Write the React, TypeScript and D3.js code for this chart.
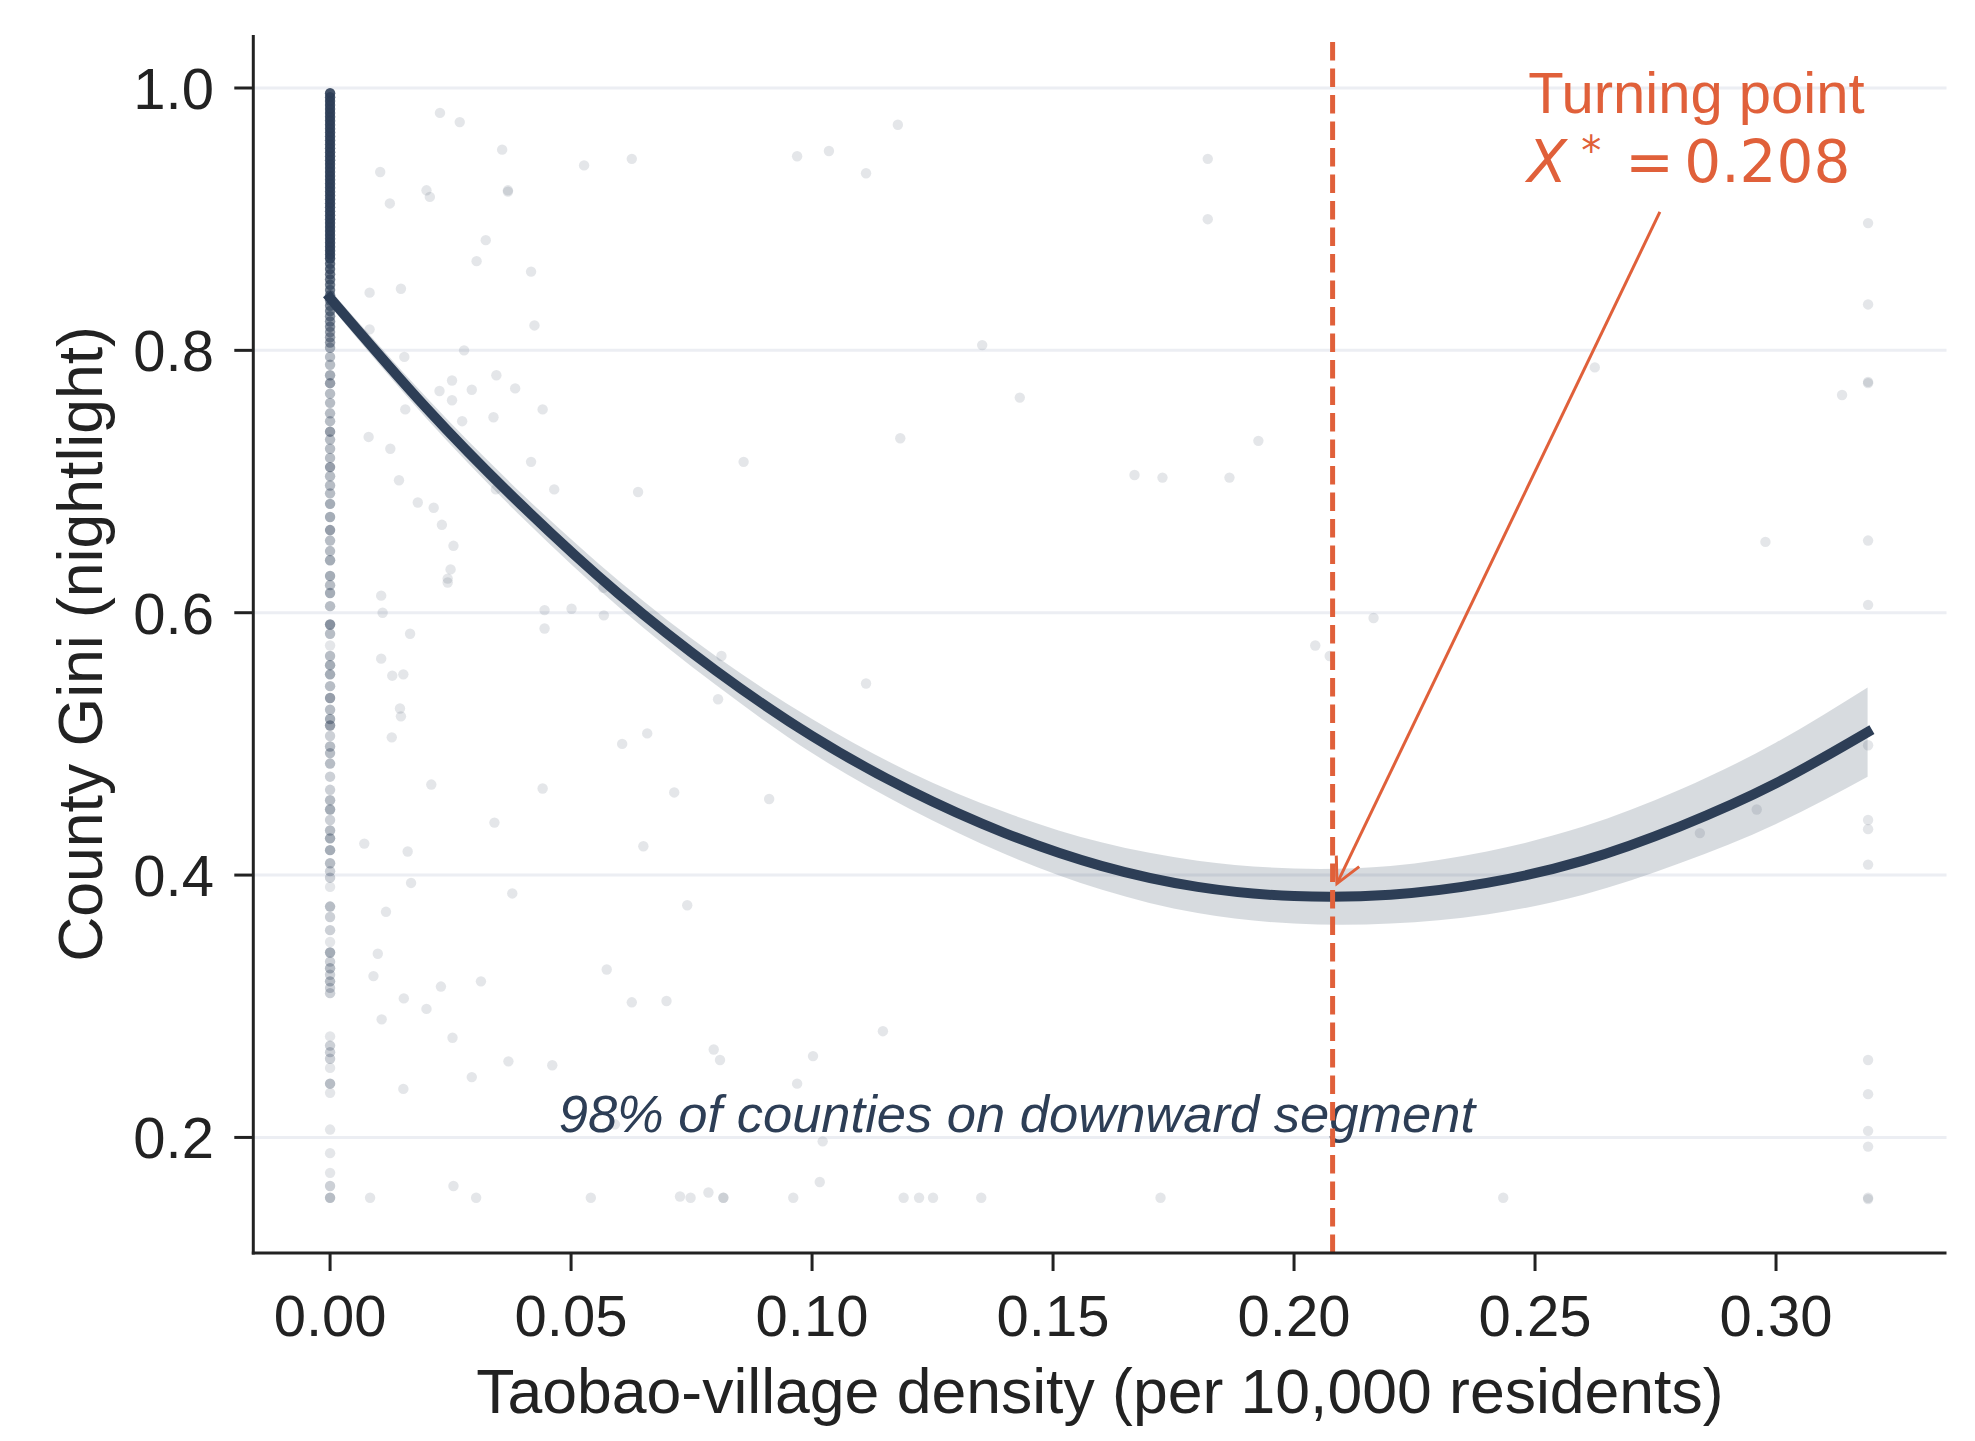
import React from 'react';
import * as d3 from 'd3';

const W = 1975;
const H = 1441;

// ---- data ----
const xTicks = [0, 0.05, 0.1, 0.15, 0.2, 0.25, 0.3];
const yTicks = [0.2, 0.4, 0.6, 0.8, 1.0];

// fitted quadratic
const fitX = [0, 0.02, 0.04, 0.06, 0.08, 0.1, 0.12, 0.14, 0.16, 0.18, 0.2, 0.22, 0.24, 0.26, 0.28, 0.3, 0.319];
const fitY = [0.84, 0.756, 0.681, 0.614, 0.556, 0.506, 0.465, 0.432, 0.407, 0.391, 0.384, 0.385, 0.394, 0.411, 0.437, 0.47, 0.509];
const fitCI = [0.006, 0.008, 0.009, 0.01, 0.011, 0.013, 0.014, 0.016, 0.018, 0.02, 0.021, 0.022, 0.024, 0.026, 0.028, 0.031, 0.034];

// counties with zero density: [gini, number of overlapping points]
const zeroColumn: [number, number][] = [
  [0.996, 16], [0.993, 16], [0.99, 16], [0.987, 16], [0.984, 16], [0.981, 16], [0.978, 16], [0.975, 16],
  [0.972, 16], [0.969, 16], [0.966, 16], [0.963, 16], [0.96, 16], [0.957, 16], [0.954, 16], [0.951, 16],
  [0.948, 16], [0.945, 16], [0.942, 16], [0.939, 16], [0.936, 16], [0.933, 16], [0.93, 16], [0.927, 16],
  [0.924, 16], [0.921, 16], [0.918, 16], [0.915, 16], [0.912, 16], [0.909, 16], [0.906, 16], [0.903, 16],
  [0.9, 16], [0.897, 16], [0.894, 16], [0.891, 16], [0.888, 16], [0.885, 16], [0.882, 16], [0.879, 16],
  [0.876, 16], [0.873, 16], [0.87, 16],
  [0.866, 10], [0.862, 10], [0.858, 9], [0.854, 9], [0.85, 8], [0.846, 8], [0.842, 8], [0.838, 7],
  [0.834, 7], [0.83, 7], [0.826, 6], [0.822, 6], [0.818, 6], [0.814, 5], [0.81, 5], [0.806, 5], [0.802, 4],
  [0.795, 3], [0.789, 3], [0.781, 4], [0.775, 5], [0.767, 3], [0.76, 3],
  [0.752, 3], [0.746, 3], [0.738, 5], [0.732, 3], [0.725, 3], [0.718, 3], [0.711, 5], [0.704, 3],
  [0.697, 3], [0.691, 3], [0.683, 4], [0.673, 4], [0.663, 5], [0.655, 3], [0.647, 3], [0.64, 4],
  [0.628, 4], [0.621, 3], [0.615, 4], [0.605, 3], [0.591, 6], [0.584, 3], [0.575, 1], [0.567, 3],
  [0.56, 4], [0.553, 4], [0.544, 3], [0.535, 5], [0.526, 3], [0.519, 4], [0.514, 5], [0.506, 2],
  [0.498, 3], [0.493, 3], [0.485, 3], [0.475, 2], [0.465, 2], [0.457, 3], [0.45, 4], [0.442, 2],
  [0.434, 3], [0.428, 4], [0.419, 4], [0.409, 3], [0.403, 2], [0.398, 2], [0.391, 1], [0.376, 3],
  [0.368, 2], [0.358, 2], [0.349, 1], [0.341, 4], [0.334, 2], [0.329, 3], [0.324, 2], [0.319, 3],
  [0.314, 2], [0.31, 2], [0.277, 1], [0.27, 2], [0.265, 2], [0.26, 2], [0.253, 1], [0.241, 3],
  [0.234, 1], [0.206, 1], [0.188, 1], [0.173, 1], [0.163, 2], [0.154, 3],
];

// counties with positive density: [density, gini]
const scatterPts: [number, number][] = [
  [0.0228, 0.981], [0.0269, 0.974], [0.0357, 0.953], [0.0626, 0.946], [0.0527, 0.941], [0.0104, 0.936],
  [0.02, 0.922], [0.0207, 0.917], [0.0369, 0.922], [0.0369, 0.921], [0.0124, 0.912], [0.0323, 0.884],
  [0.0304, 0.868], [0.0417, 0.86], [0.0082, 0.844], [0.0147, 0.847], [0.0082, 0.816], [0.0424, 0.819],
  [0.0278, 0.8], [0.0154, 0.795], [0.0253, 0.777], [0.0345, 0.781], [0.0227, 0.769], [0.0294, 0.77],
  [0.0384, 0.771], [0.0253, 0.762], [0.0156, 0.755], [0.0441, 0.755], [0.0274, 0.746], [0.0339, 0.749],
  [0.008, 0.734], [0.0125, 0.725], [0.0417, 0.715], [0.0143, 0.701], [0.0344, 0.694], [0.0465, 0.694],
  [0.0639, 0.692], [0.0182, 0.684], [0.0215, 0.68],
  [0.0232, 0.667], [0.0256, 0.651], [0.025, 0.633], [0.0244, 0.626], [0.0244, 0.623], [0.0106, 0.613],
  [0.0109, 0.6], [0.0166, 0.584], [0.0106, 0.565], [0.0129, 0.552], [0.0152, 0.553], [0.0145, 0.527],
  [0.0147, 0.521], [0.0128, 0.505], [0.021, 0.469], [0.0071, 0.424], [0.0161, 0.418], [0.0168, 0.394],
  [0.0116, 0.372], [0.0099, 0.34], [0.0445, 0.602], [0.0501, 0.603], [0.0568, 0.598], [0.0445, 0.588],
  [0.0567, 0.619], [0.0606, 0.5], [0.0658, 0.508], [0.0441, 0.466], [0.0714, 0.463], [0.0341, 0.44],
  [0.065, 0.422], [0.0378, 0.386], [0.0741, 0.377],
  [0.009, 0.323], [0.0153, 0.306], [0.0107, 0.29], [0.02, 0.298], [0.023, 0.315], [0.0313, 0.319],
  [0.0254, 0.276], [0.037, 0.258], [0.0461, 0.255], [0.0294, 0.246], [0.0152, 0.237], [0.0574, 0.328],
  [0.0626, 0.303], [0.0698, 0.304], [0.0591, 0.21], [0.0256, 0.163], [0.0083, 0.154], [0.0303, 0.154],
  [0.0541, 0.154], [0.0726, 0.155], [0.0748, 0.154],
  [0.1178, 0.972], [0.0969, 0.948], [0.1035, 0.952], [0.1112, 0.935], [0.1821, 0.946], [0.1821, 0.9],
  [0.1353, 0.804], [0.1431, 0.764], [0.1183, 0.733], [0.0858, 0.715], [0.1669, 0.705], [0.1727, 0.703],
  [0.1866, 0.703], [0.1926, 0.731], [0.0812, 0.567], [0.1112, 0.546], [0.0805, 0.534],
  [0.0911, 0.458], [0.1147, 0.281], [0.0796, 0.267], [0.0809, 0.259], [0.1002, 0.262], [0.0969, 0.241],
  [0.1022, 0.197], [0.1016, 0.166], [0.0785, 0.158], [0.0816, 0.154], [0.0816, 0.154], [0.0961, 0.154],
  [0.119, 0.154], [0.1222, 0.154], [0.1251, 0.154], [0.1351, 0.154], [0.1723, 0.154],
  [0.3191, 0.897], [0.3191, 0.835], [0.3191, 0.776], [0.3191, 0.775], [0.3137, 0.766], [0.2624, 0.787],
  [0.2978, 0.654], [0.3191, 0.655], [0.3191, 0.606], [0.2165, 0.596], [0.2044, 0.575], [0.2074, 0.567],
  [0.3191, 0.499], [0.296, 0.45], [0.2842, 0.432], [0.3191, 0.442], [0.3191, 0.435], [0.3191, 0.408],
  [0.3191, 0.259], [0.3191, 0.233], [0.3191, 0.205], [0.3191, 0.193], [0.3191, 0.154], [0.3191, 0.153],
  [0.2434, 0.154],
];

const turningX = 0.208;
const arrowTip: [number, number] = [0.2089, 0.3935];
const arrowStart: [number, number] = [0.2759, 0.9055];
const annotAnchor: [number, number] = [0.2488, 0.981];
const noteAnchor: [number, number] = [0.1425, 0.204];

const xLabel = 'Taobao-village density (per 10,000 residents)';
const yLabel = 'County Gini (nightlight)';
const noteText = '98% of counties on downward segment';

const NAVY = '#2d3e56';
const ORANGE = '#e0603a';
const INK = '#222222';
const SANS = "'Liberation Sans', Arial, Helvetica, sans-serif";
const MATH = "'DejaVu Sans', sans-serif";

export default function App() {
  const left = 253.3;
  const right = 1946.5;
  const top = 35;
  const bottom = 1253;
  const x = d3.scaleLinear().domain([-0.01593, 0.33537]).range([left, right]);
  const y = d3.scaleLinear().domain([0.1119, 1.0404]).range([bottom, top]);

  const idx = d3.range(fitX.length);
  const line = d3
    .line<number>()
    .x((i) => x(fitX[i]))
    .y((i) => y(fitY[i]))
    .curve(d3.curveNatural);
  const band = d3
    .area<number>()
    .x((i) => x(fitX[i]))
    .y0((i) => y(fitY[i] - fitCI[i]))
    .y1((i) => y(fitY[i] + fitCI[i]))
    .curve(d3.curveNatural);

  const alpha = 0.13;
  const fx = d3.format('.2f');
  const fy = d3.format('.1f');

  // arrow geometry
  const tx = x(arrowTip[0]);
  const ty = y(arrowTip[1]);
  const sx = x(arrowStart[0]);
  const sy = y(arrowStart[1]);
  const ang = Math.atan2(sy - ty, sx - tx);
  const headLen = 28;
  const headAng = (27 * Math.PI) / 180;
  const h1 = [tx + headLen * Math.cos(ang + headAng), ty + headLen * Math.sin(ang + headAng)];
  const h2 = [tx + headLen * Math.cos(ang - headAng), ty + headLen * Math.sin(ang - headAng)];

  const ax = x(annotAnchor[0]);
  const ay = y(annotAnchor[1]);

  return (
    <svg
      width={W}
      height={H}
      viewBox={`0 0 ${W} ${H}`}
      style={{ position: 'absolute', left: 0, top: 0, display: 'block', background: '#ffffff' }}
    >
      <rect x={0} y={0} width={W} height={H} fill="#ffffff" />
      {/* grid */}
      {yTicks.map((t) => (
        <line key={'g' + t} x1={left} x2={right} y1={y(t)} y2={y(t)} stroke="#eceef3" strokeWidth={3} />
      ))}
      {/* zero-density column */}
      {zeroColumn.map(([g, n], i) => (
        <circle key={'z' + i} cx={x(0)} cy={y(g)} r={5.2} fill={NAVY} fillOpacity={1 - Math.pow(1 - alpha, n)} />
      ))}
      {/* other counties */}
      {scatterPts.map(([d, g], i) => (
        <circle key={'p' + i} cx={x(d)} cy={y(g)} r={5.2} fill={NAVY} fillOpacity={alpha} />
      ))}
      {/* CI band and fit */}
      <path d={band(idx) || ''} fill={NAVY} fillOpacity={0.19} stroke="none" />
      <path d={line(idx) || ''} fill="none" stroke={NAVY} strokeWidth={10} strokeLinecap="square" strokeLinejoin="round" />
      {/* note */}
      <text
        x={x(noteAnchor[0])}
        y={y(noteAnchor[1])}
        textAnchor="middle"
        fontFamily={SANS}
        fontStyle="italic"
        fontSize={52.5}
        fill={NAVY}
      >
        {noteText}
      </text>
      {/* turning point line */}
      <line
        x1={x(turningX)}
        x2={x(turningX)}
        y1={bottom}
        y2={top}
        stroke={ORANGE}
        strokeWidth={5}
        strokeDasharray="18.5 8"
      />
      {/* annotation */}
      <text x={ax - 1} y={ay} fontFamily={SANS} fontSize={58} fill={ORANGE}>
        Turning point
      </text>
      <text y={ay + 69} fontFamily={MATH} fontSize={58} fill={ORANGE}>
        <tspan x={ax - 2} fontStyle="italic">X</tspan>
        <tspan x={ax + 52} dy={-17} fontSize={40}>*</tspan>
        <tspan x={ax + 96} dy={17}>=</tspan>
        <tspan x={ax + 155}>0.208</tspan>
      </text>
      <line x1={sx} y1={sy} x2={tx} y2={ty} stroke={ORANGE} strokeWidth={3} />
      <path
        d={`M${h1[0]},${h1[1]} L${tx},${ty} L${h2[0]},${h2[1]}`}
        fill="none"
        stroke={ORANGE}
        strokeWidth={3}
        strokeLinejoin="miter"
      />
      {/* spines */}
      <line x1={left} x2={left} y1={top} y2={bottom + 1.5} stroke={INK} strokeWidth={3} />
      <line x1={left - 1.5} x2={right} y1={bottom} y2={bottom} stroke={INK} strokeWidth={3} />
      {/* x ticks */}
      {xTicks.map((t) => (
        <g key={'xt' + t}>
          <line x1={x(t)} x2={x(t)} y1={bottom} y2={bottom + 18} stroke={INK} strokeWidth={3} />
          <text x={x(t)} y={1335.5} textAnchor="middle" fontFamily={SANS} fontSize={58} fill={INK}>
            {fx(t)}
          </text>
        </g>
      ))}
      {/* y ticks */}
      {yTicks.map((t) => (
        <g key={'yt' + t}>
          <line x1={left - 19} x2={left} y1={y(t)} y2={y(t)} stroke={INK} strokeWidth={3} />
          <text x={214} y={y(t) + 20.8} textAnchor="end" fontFamily={SANS} fontSize={58} fill={INK}>
            {fy(t)}
          </text>
        </g>
      ))}
      {/* axis labels */}
      <text x={(left + right) / 2} y={1413} textAnchor="middle" fontFamily={SANS} fontSize={62.5} fill={INK}>
        {xLabel}
      </text>
      <text
        transform={`translate(102, ${(top + bottom) / 2}) rotate(-90)`}
        textAnchor="middle"
        fontFamily={SANS}
        fontSize={62.5}
        fill={INK}
      >
        {yLabel}
      </text>
    </svg>
  );
}
